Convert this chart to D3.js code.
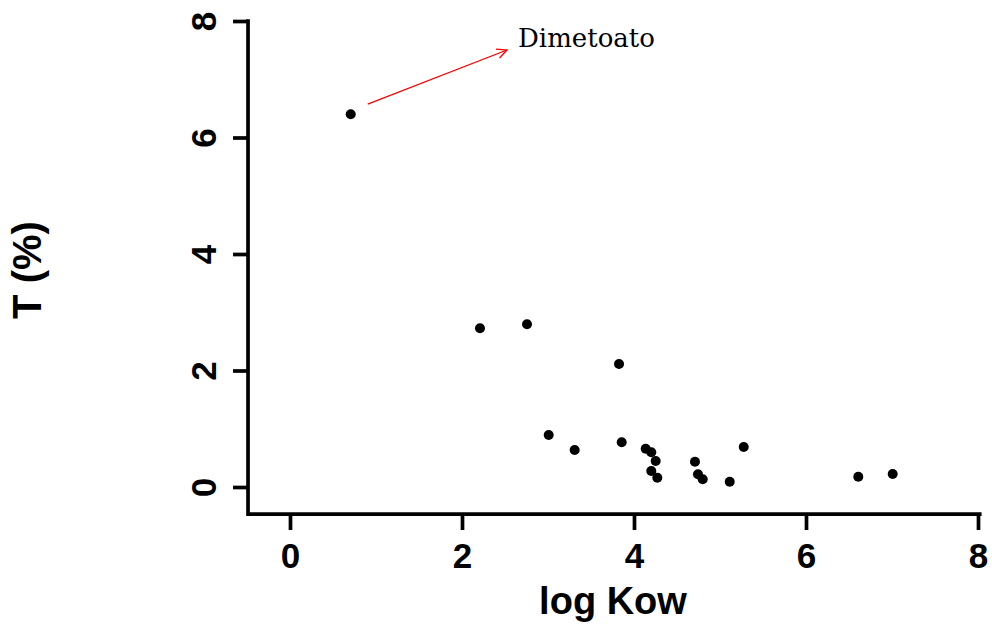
<!DOCTYPE html>
<html>
<head>
<meta charset="utf-8">
<script src="https://cdn.jsdelivr.net/npm/d3@7"></script>
<style>
  html, body { margin: 0; padding: 0; background: #fff; }
  svg { display: block; }
</style>
</head>
<body>
<svg id="chart" width="992" height="630"></svg>
<script>
// log Kow vs. transfer T (%) per compound
const logKow = [0.706, 2.209, 2.756, 3.826, 3.008, 3.310, 3.857, 4.136, 4.201, 4.252,
                4.201, 4.271, 4.709, 4.744, 4.799, 5.113, 5.276, 6.608, 7.008];
const tPct   = [6.40, 2.724, 2.793, 2.112, 0.893, 0.635, 0.767, 0.658, 0.596, 0.446,
                0.275, 0.160, 0.434, 0.218, 0.132, 0.091, 0.687, 0.177, 0.223];
const xTicks = [0, 2, 4, 6, 8];
const yTicks = [0, 2, 4, 6, 8];
const labelName = "Dimetoato";
const labelIndex = 0;

const svg = d3.select("#chart");
const sans = "'Liberation Sans', Arial, Helvetica, sans-serif";

const x = d3.scaleLinear().domain([0, 8]).range([290, 978]);
const y = d3.scaleLinear().domain([0, 8]).range([487, 21]);

// plot frame edges (L-shaped box)
const frameL = x(-0.488), frameB = y(-0.464), frameR = x(8.02), frameT = y(8);

svg.append("path")
  .attr("d", `M${frameL},${frameT} L${frameL},${frameB} L${frameR},${frameB}`)
  .attr("fill", "none").attr("stroke", "#000").attr("stroke-width", 3.7)
  .attr("stroke-linejoin", "miter").attr("stroke-linecap", "square");

// x axis ticks and labels
const xAxis = svg.append("g").attr("transform", `translate(0,${frameB})`)
  .call(d3.axisBottom(x).tickValues(xTicks).tickSize(16).tickSizeOuter(0).tickFormat(d3.format("d")));
xAxis.select(".domain").remove();
xAxis.selectAll(".tick line").attr("stroke", "#000").attr("stroke-width", 3.7);
xAxis.selectAll(".tick text").remove();
xAxis.selectAll(".tick").append("text")
  .attr("x", 0).attr("y", 568 - frameB)
  .attr("text-anchor", "middle").attr("fill", "#000")
  .style("font-family", sans).style("font-weight", "bold").style("font-size", "35px")
  .text(d => d);

// y axis ticks and rotated labels
const yAxis = svg.append("g").attr("transform", `translate(${frameL},0)`)
  .call(d3.axisLeft(y).tickValues(yTicks).tickSize(15).tickSizeOuter(0).tickFormat(d3.format("d")));
yAxis.select(".domain").remove();
yAxis.selectAll(".tick line").attr("stroke", "#000").attr("stroke-width", 3.7);
yAxis.selectAll(".tick text").remove();
yAxis.selectAll(".tick").append("text")
  .attr("transform", `translate(${215.5 - frameL},0) rotate(-90)`)
  .attr("text-anchor", "middle").attr("fill", "#000")
  .style("font-family", sans).style("font-weight", "bold").style("font-size", "35px")
  .text(d => d);

// axis titles
svg.append("text")
  .attr("x", 613).attr("y", 614)
  .attr("text-anchor", "middle")
  .style("font-family", sans).style("font-weight", "bold").style("font-size", "38px")
  .text("log Kow");

svg.append("text")
  .attr("transform", "translate(41,270) rotate(-90)")
  .attr("text-anchor", "middle")
  .style("font-family", sans).style("font-weight", "bold").style("font-size", "40px")
  .text("T (%)");

// data points
svg.append("g").selectAll("circle")
  .data(logKow.map((k, i) => [k, tPct[i]]))
  .join("circle")
  .attr("cx", d => x(d[0])).attr("cy", d => y(d[1]))
  .attr("r", 5).attr("fill", "#000");

// annotation arrow to the label
const px = x(logKow[labelIndex]), py = y(tPct[labelIndex]);
const ax0 = px + 17, ay0 = py - 10, ax1 = 507, ay1 = 50;
svg.append("line")
  .attr("x1", ax0).attr("y1", ay0).attr("x2", ax1).attr("y2", ay1)
  .attr("stroke", "#ff0000").attr("stroke-width", 1.3);
const ang = Math.atan2(ay1 - ay0, ax1 - ax0);
const head = 11, spread = Math.PI / 7;
svg.append("path")
  .attr("d", `M${ax1 - head * Math.cos(ang - spread)},${ay1 - head * Math.sin(ang - spread)} L${ax1},${ay1} L${ax1 - head * Math.cos(ang + spread)},${ay1 - head * Math.sin(ang + spread)}`)
  .attr("fill", "none").attr("stroke", "#ff0000").attr("stroke-width", 1.3);

svg.append("text")
  .attr("x", 518).attr("y", 47)
  .style("font-family", "'DejaVu Serif', 'Liberation Serif', serif")
  .style("font-size", "26px").attr("fill", "#000")
  .text(labelName);
</script>
</body>
</html>
